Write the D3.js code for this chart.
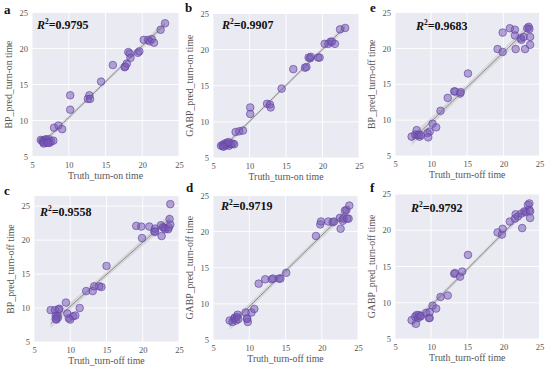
<!DOCTYPE html>
<html><head><meta charset="utf-8">
<script src="https://cdn.jsdelivr.net/npm/d3@7"></script>
<style>
html,body{margin:0;padding:0;background:#fff;}
svg{display:block;font-family:"Liberation Serif","Times New Roman",serif;}
</style></head>
<body>
<svg id="chart" width="550" height="368"></svg>
<script>
// ---------- data ----------
const panelLetters = ["a","b","e","c","d","f"];
const xLabels = ["Truth_turn-on time","Truth_turn-on time","Truth_turn-off time","Truth_turn-off time","Truth_turn-off time","Truth_turn-off time"];
const yLabels = ["BP_pred_turn-on time","GABP_pred_turn-on time","BP_pred_turn-off time","BP_pred_turn-off time","GABP_pred_turn-off time","GABP_pred_turn-off time"];
const r2Labels = ["0.9795","0.9907","0.9683","0.9558","0.9719","0.9792"];
const tickValues = [5,10,15,20,25];

const aTruth = [6.2,6.4,6.5,6.7,6.8,6.9,7.0,7.1,7.3,7.4,7.6,7.9,6.6,7.2,8.0,8.6,9.1,10.2,10.2,12.6,12.8,12.9,14.4,16.0,17.6,17.7,17.9,18.1,18.3,18.4,19.4,19.6,20.2,20.8,21.0,21.3,21.6,22.5,23.1];
const aPred  = [7.3,7.2,7.0,7.3,6.9,7.4,7.2,7.0,7.4,6.9,7.1,7.2,6.8,6.9,9.0,9.3,8.8,13.5,11.5,13.0,13.5,13.0,15.4,17.7,17.4,17.5,17.9,19.5,19.3,18.7,19.4,19.6,21.2,21.2,21.0,21.3,20.8,22.6,23.5];

const bTruth = [6.1,6.3,6.5,6.6,6.8,6.9,7.0,7.2,7.3,7.5,7.7,7.9,6.4,7.1,8.1,8.6,9.1,10.1,10.1,12.4,12.8,12.9,14.4,16.0,17.6,17.8,18.1,18.3,18.4,19.4,19.6,20.3,20.8,21.1,21.3,21.7,22.4,23.1];
const bPred  = [6.7,6.8,6.6,7.0,6.8,7.1,6.9,6.7,7.0,6.9,7.0,6.9,6.6,7.2,8.6,8.7,8.8,12.0,11.1,12.5,12.4,12.0,14.6,17.3,17.5,17.6,18.9,18.8,19.0,18.9,18.9,20.8,20.8,21.1,21.1,20.8,22.8,23.0];

const eTruth = [7.3,7.8,8.0,8.1,8.3,8.4,8.6,9.5,9.8,9.6,10.2,10.7,11.3,12.3,13.2,13.3,14.0,14.1,15.1,19.2,19.9,19.9,20.9,21.6,21.6,21.7,22.4,22.5,22.8,23.0,23.3,23.5,23.6,23.7,23.7];
const ePred  = [7.7,8.0,8.6,7.9,8.0,7.7,7.9,8.2,8.4,7.6,9.5,9.0,11.3,13.1,14.0,14.0,13.7,13.9,16.5,19.9,19.5,22.2,22.8,22.6,21.8,19.9,21.4,21.2,21.6,19.9,22.8,23.0,22.7,21.6,20.5];

const cTruth = [7.3,7.9,8.0,8.1,8.2,8.4,8.5,8.3,8.0,9.4,9.6,9.8,10.0,10.4,10.7,11.3,12.2,13.1,13.3,14.0,14.3,15.0,19.1,19.8,19.9,20.9,21.6,21.7,21.7,22.5,22.6,22.8,23.0,23.1,23.5,23.6,23.7,23.8,23.8];
const cPred  = [9.7,9.7,8.8,8.3,8.9,9.8,9.9,8.6,8.4,10.8,9.2,8.5,8.3,8.8,8.9,10.0,12.5,12.5,13.2,13.2,13.1,16.2,22.1,22.0,20.3,22.0,21.3,21.7,21.2,22.2,20.6,21.9,21.8,21.6,21.6,21.9,23.1,25.3,22.3];

const dTruth = [7.3,7.7,7.9,8.0,8.2,8.3,8.4,8.5,9.5,9.7,9.8,9.7,10.3,10.7,11.3,12.2,13.1,13.3,14.1,14.3,15.1,19.2,19.8,19.9,20.9,21.5,21.7,22.5,22.6,22.9,23.0,23.2,23.4,23.5,23.7,23.8];
const dPred  = [7.7,7.5,7.9,8.1,7.7,8.2,8.5,7.9,8.8,7.9,7.5,8.0,8.8,9.3,12.8,13.4,13.4,13.5,13.5,13.5,14.3,19.4,21.0,21.4,21.4,21.3,21.4,21.9,20.4,21.5,21.8,22.9,23.0,21.8,21.8,23.6];

const fTruth = [7.3,7.8,7.9,8.0,8.2,8.3,8.5,8.6,9.3,9.7,9.8,9.8,10.2,10.7,11.3,12.3,13.2,13.3,14.0,14.3,15.1,19.2,19.8,19.9,20.9,21.6,21.7,22.0,22.5,22.6,22.9,23.1,23.4,23.6,23.6,23.7,23.7];
const fPred  = [7.6,8.1,7.1,8.3,7.9,8.3,8.1,8.2,8.6,7.9,7.9,8.7,9.6,9.2,10.8,11.0,14.0,14.1,13.6,14.3,16.6,19.7,19.4,20.2,21.2,21.6,22.2,21.9,22.3,20.3,22.6,22.5,23.5,23.7,22.8,22.6,21.7];

const truthSets = [aTruth,bTruth,eTruth,cTruth,dTruth,fTruth];
const predSets  = [aPred,bPred,ePred,cPred,dPred,fPred];
const yMaxes = [25,25,25,26.5,25,25];

// ---------- layout ----------
const boxes = [
  {l:32,  r:179,   t:12.5, b:156.5, letter:[4,14],   r2:[37,29]},
  {l:213, r:359,   t:13.5, b:158,   letter:[185,12], r2:[222,29]},
  {l:395, r:539.5, t:12.5, b:156,   letter:[370,12], r2:[416,30]},
  {l:34,  r:179,   t:196,  b:342,   letter:[4,195],  r2:[40,216]},
  {l:213, r:358,   t:195.5,b:340,   letter:[186,192],r2:[221,210]},
  {l:395, r:539.5, t:194,  b:339,   letter:[370,192],r2:[411,212]}
];

const svg = d3.select("#chart");

function regression(xs, ys){
  const n = xs.length;
  const mx = d3.mean(xs), my = d3.mean(ys);
  let sxx=0, sxy=0;
  for(let i=0;i<n;i++){ sxx += (xs[i]-mx)**2; sxy += (xs[i]-mx)*(ys[i]-my); }
  const slope = sxy/sxx, icp = my - slope*mx;
  let sse=0;
  for(let i=0;i<n;i++){ sse += (ys[i]-(icp+slope*xs[i]))**2; }
  const s = Math.sqrt(sse/(n-2));
  return {slope, icp, s, n, mx, sxx};
}

boxes.forEach((bx, k) => {
  const xs = truthSets[k], ys = predSets[k];
  const x = d3.scaleLinear().domain([5,25]).range([bx.l, bx.r]);
  const y = d3.scaleLinear().domain([5,yMaxes[k]]).range([bx.b, bx.t]);
  const g = svg.append("g");

  g.append("rect").attr("x",bx.l).attr("y",bx.t).attr("width",bx.r-bx.l).attr("height",bx.b-bx.t).attr("fill","#eaeaf2");

  // grid
  g.append("g").selectAll("line").data(tickValues).join("line")
    .attr("x1",d=>x(d)).attr("x2",d=>x(d)).attr("y1",bx.t).attr("y2",bx.b)
    .attr("stroke","#fff").attr("stroke-width",0.9);
  g.append("g").selectAll("line").data(tickValues.filter(v=>v<=yMaxes[k])).join("line")
    .attr("y1",d=>y(d)).attr("y2",d=>y(d)).attr("x1",bx.l).attr("x2",bx.r)
    .attr("stroke","#fff").attr("stroke-width",0.9);

  // axes (labels only)
  const xa = g.append("g").attr("transform",`translate(0,${bx.b})`)
    .call(d3.axisBottom(x).tickValues(tickValues).tickSize(0).tickPadding(5));
  const ya = g.append("g").attr("transform",`translate(${bx.l},0)`)
    .call(d3.axisLeft(y).tickValues(tickValues).tickSize(0).tickPadding(4));
  [xa,ya].forEach(a=>{
    a.select(".domain").remove();
    a.selectAll("text").attr("font-family","Liberation Serif, serif").attr("font-size",8.5)
      .attr("font-weight","normal").attr("fill","#555");
  });

  // regression line + CI
  const R = regression(xs, ys);
  const x0 = d3.min(xs), x1 = d3.max(xs);
  const tval = 2.03;
  const grid = d3.range(0, 51).map(i => x0 + (x1-x0)*i/50);
  const band = grid.map(v => {
    const yh = R.icp + R.slope*v;
    const se = R.s*Math.sqrt(1/R.n + (v-R.mx)**2/R.sxx);
    return {v, lo: yh - tval*se, hi: yh + tval*se, yh};
  });
  g.append("path").datum(band)
    .attr("d", d3.area().x(d=>x(d.v)).y0(d=>y(d.lo)).y1(d=>y(d.hi)))
    .attr("fill","#a0a0a0").attr("fill-opacity",0.28);
  g.append("path").datum(band)
    .attr("d", d3.line().x(d=>x(d.v)).y(d=>y(d.yh)))
    .attr("fill","none").attr("stroke","#8a8a8a").attr("stroke-width",1);

  // points
  g.append("g").selectAll("circle").data(xs.map((v,i)=>[v, ys[i]])).join("circle")
    .attr("cx",d=>x(d[0])).attr("cy",d=>y(d[1])).attr("r",3.8)
    .attr("fill","rgba(120,90,180,0.52)")
    .attr("stroke","rgba(100,70,165,0.75)").attr("stroke-width",0.9);

  // axis labels
  g.append("text").attr("x",(bx.l+bx.r)/2).attr("y",bx.b+22)
    .attr("text-anchor","middle").attr("font-size",9.8).attr("font-weight","normal").attr("fill","#555")
    .text(xLabels[k]);
  g.append("text").attr("transform",`translate(${bx.l-20},${(bx.t+bx.b)/2}) rotate(-90)`)
    .attr("text-anchor","middle").attr("font-size",9.8).attr("font-weight","normal").attr("fill","#555")
    .text(yLabels[k]);

  // R^2
  const rt = g.append("text").attr("x",bx.r2[0]).attr("y",bx.r2[1])
    .attr("font-size",12).attr("font-weight","bold").attr("fill","#111");
  rt.append("tspan").attr("font-style","italic").text("R");
  rt.append("tspan").attr("font-size",7.5).attr("dy",-5).text("2");
  rt.append("tspan").attr("dy",5).text("=" + r2Labels[k]);

  // panel letter
  g.append("text").attr("x",bx.letter[0]).attr("y",bx.letter[1])
    .attr("font-size",13).attr("font-weight","bold").attr("fill","#111")
    .text(panelLetters[k]);
});
</script>
</body></html>
